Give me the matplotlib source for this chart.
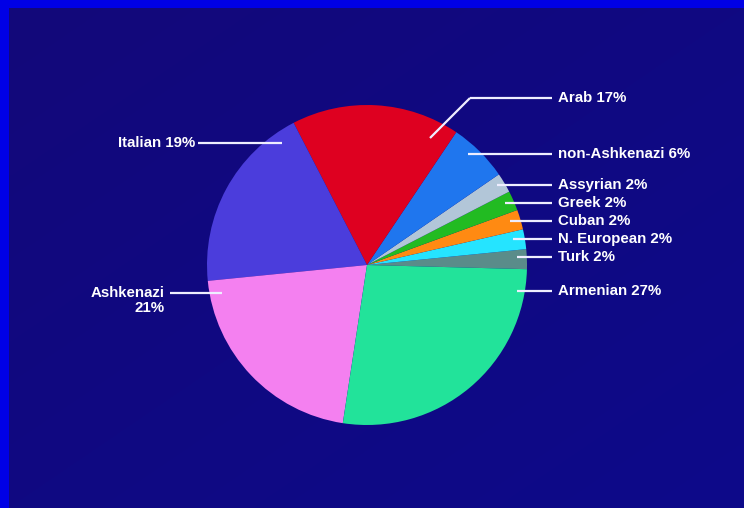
import numpy as np
import matplotlib.pyplot as plt

# slices, counterclockwise from just below 3 o'clock
names = ['Turk', 'N. European', 'Cuban', 'Greek', 'Assyrian',
         'non-Ashkenazi', 'Arab', 'Italian', 'Ashkenazi', 'Armenian']
shares = [2, 2, 2, 2, 2, 6, 17, 19, 21, 27]
colors = ['#5a8c8a', '#25e4ff', '#ff8a12', '#22bb22', '#b2c6d8',
          '#1f76ee', '#de0020', '#4b3ddc', '#f480f0', '#22e39a']

W, H = 744, 508
def py(y):
    # pixel row (from top) -> data y
    return H - y

fig = plt.figure(figsize=(7.44, 5.08), dpi=100, facecolor='#0000e6')
ax = fig.add_axes([0, 0, 1, 1])

# dark navy backdrop with a faint gradient, bright frame left/top
gx, gy = np.meshgrid(np.linspace(0, 1, 128), np.linspace(0, 1, 128))
g = 0.5 * gx + 0.5 * gy
bg = np.zeros((128, 128, 3))
bg[..., 0] = (0x13 - 6 * g) / 255
bg[..., 1] = (0x08 + 2 * g) / 255
bg[..., 2] = (0x7a + 16 * g) / 255
ax.imshow(bg, extent=(9, W, 0, py(8)), aspect='auto', zorder=0,
          interpolation='bilinear')

ax.pie(shares, colors=colors, startangle=-1.5, counterclock=True,
       center=(367, py(265)), radius=160, frame=True,
       wedgeprops=dict(linewidth=0))
ax.set_xlim(0, W)
ax.set_ylim(0, H)
ax.set_aspect('auto')
ax.axis('off')

txt = dict(color='white', fontsize=10.8, fontweight='bold',
           family=['Liberation Sans', 'DejaVu Sans'], va='center')
line = dict(color='#eeeeff', lw=1.6, solid_capstyle='butt')

# right side labels: (text, row, line start x)
right_labels = [('Arab 17%', 98, 470),
                ('non-Ashkenazi 6%', 154, 468),
                ('Assyrian 2%', 185, 497),
                ('Greek 2%', 203, 505),
                ('Cuban 2%', 221, 510),
                ('N. European 2%', 239, 513),
                ('Turk 2%', 257, 517),
                ('Armenian 27%', 291, 517)]
for t, r, x0 in right_labels:
    ax.text(558, py(r), t, ha='left', **txt)
    ax.plot([x0, 552], [py(r), py(r)], **line)
ax.plot([430, 470], [py(138), py(98)], **line)

ax.text(195, py(143), 'Italian 19%', ha='right', **txt)
ax.plot([198, 282], [py(143), py(143)], **line)

ax.text(165, py(293), 'Ashkenazi', ha='right', **txt)
ax.text(165, py(308), '21%', ha='right', **txt)
ax.plot([170, 222], [py(293), py(293)], **line)

fig.savefig('out.png', dpi=100, facecolor=fig.get_facecolor())
